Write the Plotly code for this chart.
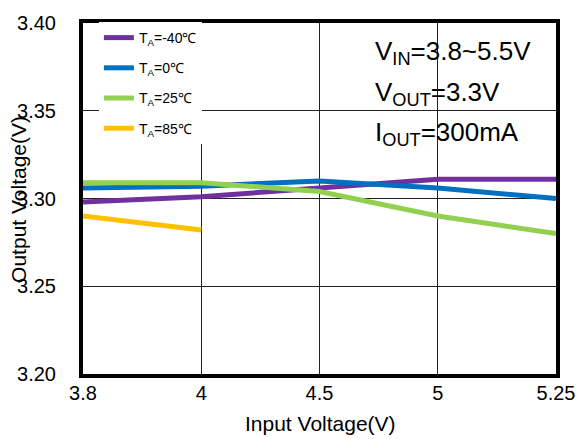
import plotly.graph_objects as go

x_labels = ["3.8", "4", "4.5", "5", "5.25"]
v_m40 = [3.298, 3.301, 3.306, 3.311, 3.311]
v_0 = [3.306, 3.307, 3.310, 3.306, 3.300]
v_25 = [3.309, 3.309, 3.304, 3.290, 3.280]
x_85 = ["3.8", "4"]
v_85 = [3.290, 3.282]

series = [
    ("T<sub>A</sub>=-40℃", x_labels, v_m40, "#7030A0"),
    ("T<sub>A</sub>=0℃", x_labels, v_0, "#0070C0"),
    ("T<sub>A</sub>=25℃", x_labels, v_25, "#92D050"),
    ("T<sub>A</sub>=85℃", x_85, v_85, "#FFC000"),
]

FONT = "Liberation Sans, Arial, sans-serif"

fig = go.Figure()
for i, (name, xs, ys, col) in enumerate(series):
    fig.add_trace(go.Scatter(x=xs, y=ys, mode="lines", name=name,
                             legendgroup=f"g{i}",
                             line=dict(color=col, width=5)))

W, H = 587, 439
L, R, T, B = 83, 28, 18, 65
pw = W - L - R
ph = H - T - B

def px(xp):
    return (xp - L) / pw

def py(yp):
    return (H - B - yp) / ph

fig.update_layout(
    width=W, height=H,
    margin=dict(l=L, r=R, t=T, b=B),
    paper_bgcolor="white", plot_bgcolor="white",
    font=dict(family=FONT, color="black"),
    showlegend=True,
    legend=dict(x=px(99), y=py(17), xanchor="left", yanchor="top",
                bgcolor="white", font=dict(size=14, family=FONT),
                tracegroupgap=9, itemwidth=30),
    xaxis=dict(type="category", categoryorder="array", categoryarray=x_labels,
               range=[0, 4], showgrid=True, gridcolor="#222222", gridwidth=1,
               showline=True, linecolor="black", linewidth=4, mirror=True,
               ticks="", tickfont=dict(size=20), ticklabelstandoff=-2,
               zeroline=False),
    yaxis=dict(range=[3.20, 3.40], dtick=0.05, tick0=3.20, tickformat=".2f",
               showgrid=True, gridcolor="#222222", gridwidth=1,
               showline=True, linecolor="black", linewidth=4, mirror=True,
               ticks="", tickfont=dict(size=20), ticklabelstandoff=19,
               zeroline=False),
)

fig.add_shape(type="rect", xref="paper", yref="paper",
              x0=px(357), x1=px(553), y0=py(165), y1=py(23),
              fillcolor="white", line=dict(width=0), layer="between")

notes = ["V<sub>IN</sub>=3.8~5.5V", "V<sub>OUT</sub>=3.3V", "I<sub>OUT</sub>=300mA"]
note_y = [48, 89, 130]
for t, yy in zip(notes, note_y):
    fig.add_annotation(text=t, xref="paper", yref="paper", x=px(375), y=py(yy),
                       xanchor="left", yanchor="middle", showarrow=False,
                       font=dict(size=26, family=FONT))

fig.add_annotation(text="Output Voltage(V)", xref="paper", yref="paper",
                   x=px(18), y=py(197), xanchor="center", yanchor="middle",
                   textangle=-90, showarrow=False, font=dict(size=21, family=FONT))
fig.add_annotation(text="Input Voltage(V)", xref="paper", yref="paper",
                   x=px(322), y=py(424), xanchor="center", yanchor="middle",
                   showarrow=False, font=dict(size=21, family=FONT))

fig.write_html("out.html", config={"displayModeBar": False},
               post_script="document.body.style.margin='0';document.body.style.overflow='hidden';")
